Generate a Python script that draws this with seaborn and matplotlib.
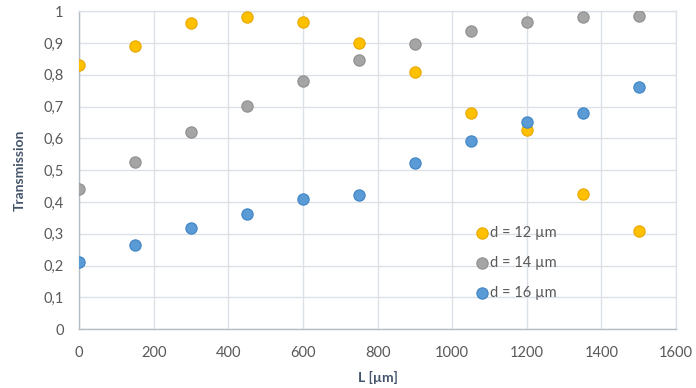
import matplotlib
matplotlib.use("Agg")
import matplotlib.pyplot as plt
import seaborn as sns
import pandas as pd
from matplotlib.ticker import FuncFormatter, MultipleLocator

L_um = [0, 150, 300, 450, 600, 750, 900, 1050, 1200, 1350, 1500]
d12 = [0.832, 0.890, 0.962, 0.983, 0.967, 0.901, 0.810, 0.681, 0.627, 0.425, 0.309]
d14 = [0.442, 0.526, 0.620, 0.703, 0.782, 0.848, 0.896, 0.937, 0.967, 0.982, 0.985]
d16 = [0.212, 0.265, 0.318, 0.362, 0.409, 0.422, 0.524, 0.593, 0.652, 0.679, 0.762]
series_names = ["d = 12 µm", "d = 14 µm", "d = 16 µm"]
colors = ["#FFC000", "#A5A5A5", "#5B9BD5"]
edges = ["#E6A700", "#8E8E8E", "#3F84C4"]

rows = []
for name, vals in zip(series_names, [d12, d14, d16]):
    for x, y in zip(L_um, vals):
        rows.append({"L": x, "T": y, "series": name})
df = pd.DataFrame(rows)

sns.set_theme(style="white")
plt.rcParams["font.family"] = ["Lato", "DejaVu Sans"]

fig = plt.figure(figsize=(6.96, 3.88), dpi=100)
ax = fig.add_axes([0.1135, 0.1513, 0.8578, 0.8197])

for name, c, e in zip(series_names, colors, edges):
    sub = df[df["series"] == name]
    sns.scatterplot(data=sub, x="L", y="T", ax=ax, color=c, edgecolor=e,
                    linewidth=0.8, s=66, label=name, zorder=3)

ax.set_xlim(0, 1600)
ax.set_ylim(0, 1)
ax.xaxis.set_major_locator(MultipleLocator(200))
ax.yaxis.set_major_locator(MultipleLocator(0.1))
ax.yaxis.set_major_formatter(FuncFormatter(lambda v, p: ("%g" % round(v, 1)).replace(".", ",")))
ax.grid(True, color="#DCE1E8", linewidth=1.0, zorder=0)
ax.set_axisbelow(True)
for s in ["top", "right"]:
    ax.spines[s].set_color("#DCE1E8")
    ax.spines[s].set_linewidth(1.0)
for s in ["left", "bottom"]:
    ax.spines[s].set_color("#B4BCC6")
    ax.spines[s].set_linewidth(1.0)
ax.tick_params(axis="both", length=0, labelsize=10.5, labelcolor="#595959")
ax.tick_params(axis="x", pad=12)
ax.tick_params(axis="y", pad=11)
ax.set_xlabel("L [µm]", fontsize=10, fontweight="bold", color="#44546A", labelpad=8)
ax.set_ylabel("Transmission", fontsize=10, fontweight="bold", color="#44546A", labelpad=13)

leg = ax.legend(loc="center left", bbox_to_anchor=(0.665, 0.209), frameon=False,
                fontsize=10.5, handlelength=0.8, handletextpad=0.15, labelspacing=1.1,
                borderpad=0, borderaxespad=0, markerscale=1.0)
for t in leg.get_texts():
    t.set_color("#595959")

fig.savefig("out.png", dpi=100)
